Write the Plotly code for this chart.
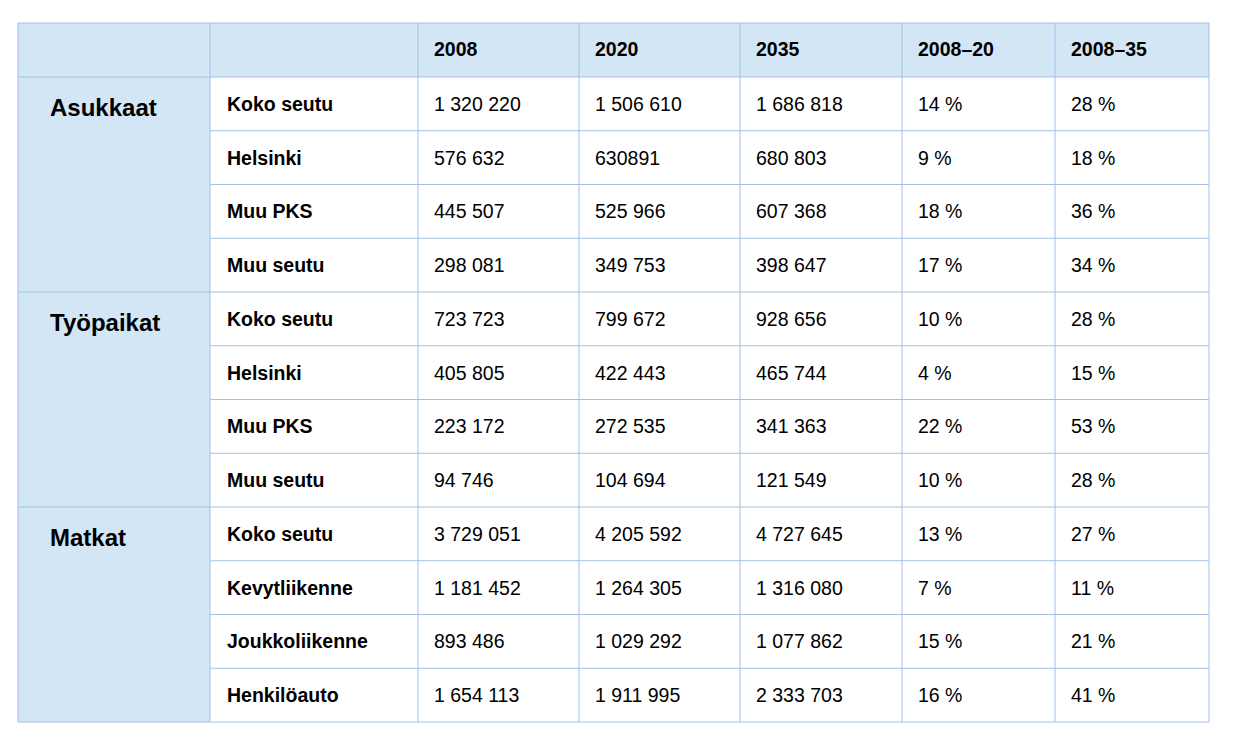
import plotly.graph_objects as go

# ---------------- data ----------------
header = ["", "", "2008", "2020", "2035", "2008–20", "2008–35"]
groups = ["Asukkaat", "Työpaikat", "Matkat"]
group_sizes = [4, 4, 4]
subcats = ["Koko seutu", "Helsinki", "Muu PKS", "Muu seutu",
           "Koko seutu", "Helsinki", "Muu PKS", "Muu seutu",
           "Koko seutu", "Kevytliikenne", "Joukkoliikenne", "Henkilöauto"]
v2008 = ["1 320 220", "576 632", "445 507", "298 081",
         "723 723", "405 805", "223 172", "94 746",
         "3 729 051", "1 181 452", "893 486", "1 654 113"]
v2020 = ["1 506 610", "630891", "525 966", "349 753",
         "799 672", "422 443", "272 535", "104 694",
         "4 205 592", "1 264 305", "1 029 292", "1 911 995"]
v2035 = ["1 686 818", "680 803", "607 368", "398 647",
         "928 656", "465 744", "341 363", "121 549",
         "4 727 645", "1 316 080", "1 077 862", "2 333 703"]
ch_2008_20 = ["14 %", "9 %", "18 %", "17 %",
              "10 %", "4 %", "22 %", "10 %",
              "13 %", "7 %", "15 %", "16 %"]
ch_2008_35 = ["28 %", "18 %", "36 %", "34 %",
              "28 %", "15 %", "53 %", "28 %",
              "27 %", "11 %", "21 %", "41 %"]

# ---------------- layout constants ----------------
W, H = 1255, 754
OFF = 8  # page body margin
col_edges = [18, 210, 418, 579, 740, 902, 1055, 1209]
top = 23
header_h = 54
row_h = 53.75
fill = "#D2E6F6"
border = "#A4C0E6"
font_family = "Liberation Sans, Arial, sans-serif"
fs = 19.5
fs_group = 24
pad = 14

n_rows = len(subcats)
body_top = top + header_h
bottom = body_top + n_rows * row_h

def row_y(i):
    return body_top + i * row_h

shapes = []
annotations = []

shapes.append(dict(type="rect", x0=col_edges[0], x1=col_edges[-1], y0=top, y1=body_top,
                   fillcolor=fill, line=dict(width=0), layer="below"))
shapes.append(dict(type="rect", x0=col_edges[0], x1=col_edges[1], y0=body_top, y1=bottom,
                   fillcolor=fill, line=dict(width=0), layer="below"))

for x in col_edges:
    shapes.append(dict(type="line", x0=x, x1=x, y0=top, y1=bottom,
                       line=dict(color=border, width=1)))
starts = []
s = 0
for g in group_sizes:
    starts.append(s)
    s += g
full_lines = [top, body_top] + [row_y(st + g) for st, g in zip(starts, group_sizes)]
for y in full_lines:
    shapes.append(dict(type="line", x0=col_edges[0], x1=col_edges[-1], y0=y, y1=y,
                       line=dict(color=border, width=1)))
for i in range(1, n_rows):
    if i in starts:
        continue
    y = row_y(i)
    shapes.append(dict(type="line", x0=col_edges[1], x1=col_edges[-1], y0=y, y1=y,
                       line=dict(color=border, width=1)))

def add_text(x, y, text, size, bold):
    annotations.append(dict(x=x, y=y, xref="x", yref="y", text=f"<b>{text}</b>" if bold else text,
                            showarrow=False, xanchor="left", yanchor="middle",
                            font=dict(family=font_family, size=size, color="#000000")))

for c, h in enumerate(header):
    if h:
        add_text(col_edges[c] + pad, top + header_h / 2 - 1, h, fs, True)

for gname, st in zip(groups, starts):
    add_text(col_edges[0] + 30, row_y(st) + row_h / 2 + 4, gname, fs_group, True)

cols = [subcats, v2008, v2020, v2035, ch_2008_20, ch_2008_35]
for ci, col in enumerate(cols):
    c = ci + 1
    for i, val in enumerate(col):
        add_text(col_edges[c] + pad + (1 if c == 1 else 0), row_y(i) + row_h / 2, val, fs, c == 1)

fw, fh = W - 2 * OFF, H - 2 * OFF
fig = go.Figure()
fig.add_trace(go.Scatter(x=[OFF, W - OFF], y=[OFF, H - OFF], mode="markers", marker=dict(opacity=0),
                         hoverinfo="skip", showlegend=False))
fig.update_layout(
    width=fw, height=fh, autosize=False,
    margin=dict(l=0, r=0, t=0, b=0),
    paper_bgcolor="white", plot_bgcolor="white",
    xaxis=dict(range=[OFF, OFF + fw], visible=False, fixedrange=True),
    yaxis=dict(range=[OFF + fh, OFF], visible=False, fixedrange=True),
    shapes=shapes, annotations=annotations, showlegend=False,
)
fig.write_html("out.html", config={"displayModeBar": False})
